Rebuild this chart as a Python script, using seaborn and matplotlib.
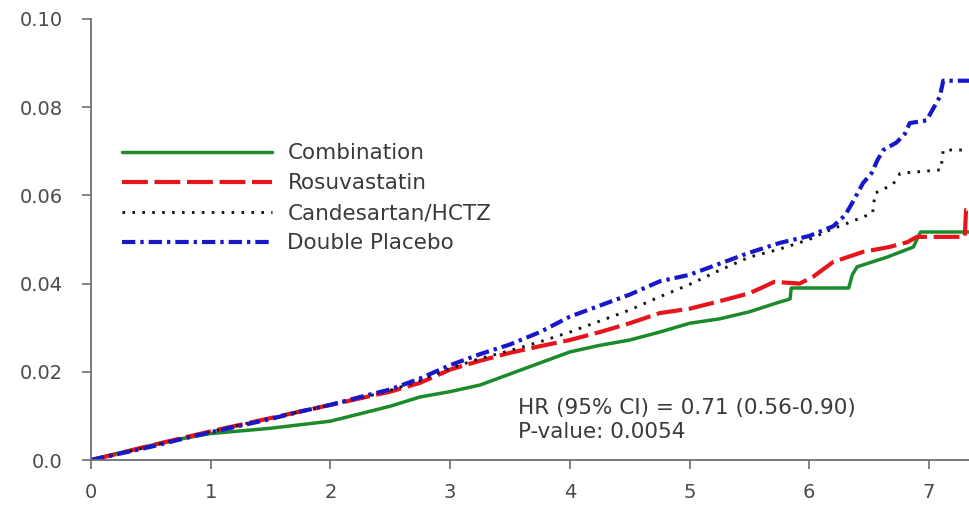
import matplotlib
matplotlib.use("Agg")
import matplotlib.pyplot as plt
import pandas as pd
import seaborn as sns

# ---- data ----
grid = [0, 0.25, 0.5, 0.75, 1.0, 1.25, 1.5, 1.75, 2.0, 2.25, 2.5, 2.75, 3.0,
        3.25, 3.5, 3.75, 4.0, 4.25, 4.5, 4.75, 5.0, 5.25, 5.5, 5.75, 6.0]

combination_t = grid[:24] + [5.84, 5.85, 6.33, 6.36, 6.40, 6.65, 6.87, 6.93, 7.40]
combination_v = [0, 0.0017, 0.0033, 0.0048, 0.0060, 0.0066, 0.0072, 0.0080, 0.0088,
                 0.0105, 0.0122, 0.0143, 0.0155, 0.0170, 0.0195, 0.0220, 0.0245,
                 0.0260, 0.0272, 0.0290, 0.0310, 0.0320, 0.0336, 0.0358, 0.0365,
                 0.0390, 0.0390, 0.0420, 0.0438, 0.0460, 0.0483, 0.0517, 0.0517]

rosuva_t = grid[:23] + [5.71, 5.92, 6.03, 6.20, 6.45, 6.67, 6.82, 6.90, 7.30, 7.31, 7.40]
rosuva_v = [0, 0.0016, 0.0033, 0.0049, 0.0065, 0.0080, 0.0095, 0.0110, 0.0125,
            0.0140, 0.0155, 0.0175, 0.0205, 0.0225, 0.0243, 0.0258, 0.0272,
            0.0290, 0.0310, 0.0333, 0.0343, 0.0360, 0.0378,
            0.0404, 0.0400, 0.0415, 0.0449, 0.0472, 0.0483, 0.0494, 0.0506,
            0.0506, 0.0567, 0.0567]

cand_t = grid[:25] + [6.20, 6.32, 6.53, 6.55, 6.70, 6.76, 7.10, 7.12, 7.40]
cand_v = [0, 0.0015, 0.0032, 0.0048, 0.0064, 0.0080, 0.0095, 0.0110, 0.0125,
          0.0140, 0.0158, 0.0180, 0.0208, 0.0230, 0.0248, 0.0268, 0.0290,
          0.0315, 0.0340, 0.0370, 0.0398, 0.0430, 0.0460, 0.0478, 0.0500,
          0.0525, 0.0537, 0.0560, 0.0605, 0.0625, 0.0650, 0.0658, 0.0703, 0.0703]

placebo_t = grid[:25] + [6.20, 6.30, 6.36, 6.45, 6.52, 6.57, 6.62, 6.73, 6.80,
                         6.84, 6.98, 7.03, 7.09, 7.12, 7.40]
placebo_v = [0, 0.0015, 0.0030, 0.0047, 0.0063, 0.0078, 0.0093, 0.0110, 0.0125,
             0.0143, 0.0160, 0.0185, 0.0215, 0.0240, 0.0262, 0.0290, 0.0325,
             0.0350, 0.0375, 0.0405, 0.0420, 0.0445, 0.0470, 0.0492, 0.0508,
             0.0530, 0.0555, 0.0583, 0.0628, 0.0650, 0.0680, 0.0703, 0.0720,
             0.0740, 0.0764, 0.0770, 0.0794, 0.0823, 0.0860, 0.0860]

labels = ["Combination", "Rosuvastatin", "Candesartan/HCTZ", "Double Placebo"]
x_ticks = [0, 1, 2, 3, 4, 5, 6, 7]
y_ticks = [0.0, 0.02, 0.04, 0.06, 0.08, 0.10]
y_ticklabels = ["0.0", "0.02", "0.04", "0.06", "0.08", "0.10"]
hr_text = "HR (95% CI) = 0.71 (0.56-0.90)"
p_text = "P-value: 0.0054"

series = [
    (labels[0], combination_t, combination_v),
    (labels[1], rosuva_t, rosuva_v),
    (labels[2], cand_t, cand_v),
    (labels[3], placebo_t, placebo_v),
]
frames = [pd.DataFrame({"Years": t, "Incidence": v, "Group": g}) for g, t, v in series]
df = pd.concat(frames, ignore_index=True)

# ---- styling ----
sns.set_theme(style="ticks")
plt.rcParams["font.family"] = ["DejaVu Sans"]

styles = {
    "Combination": dict(color="#1b8a2b", lw=2.5, dashes=None),
    "Rosuvastatin": dict(color="#e8141c", lw=3.0, dashes=(6.2, 1.6)),
    "Candesartan/HCTZ": dict(color="#151515", lw=2.1, dashes=(0.9, 2.5)),
    "Double Placebo": dict(color="#1818c8", lw=3.0, dashes=(3.2, 1.2, 0.8, 1.2)),
}

fig = plt.figure(figsize=(9.69, 5.12), dpi=100)
ax = fig.add_axes([91 / 969, 52 / 512, 1 - 91 / 969, 441 / 512])

handles = []
for g in labels:
    st = styles[g]
    sub = df[df["Group"] == g]
    sns.lineplot(data=sub, x="Years", y="Incidence", ax=ax, color=st["color"],
                 linewidth=st["lw"], sort=False, estimator=None, legend=False)
    ln = ax.lines[-1]
    if st["dashes"] is not None:
        ln.set_dashes(st["dashes"])
    handles.append(ln)

ax.set_xlim(0, 7.335)
ax.set_ylim(0, 0.10)
ax.set_xticks(x_ticks)
ax.set_xticklabels([str(v) for v in x_ticks])
ax.set_yticks(y_ticks)
ax.set_yticklabels(y_ticklabels)
ax.set_xlabel("")
ax.set_ylabel("")

for side in ["top", "right"]:
    ax.spines[side].set_visible(False)
for side in ["left", "bottom"]:
    ax.spines[side].set_color("#6e6e6e")
    ax.spines[side].set_linewidth(1.3)

ax.tick_params(axis="both", direction="out", length=6.5, width=1.2,
               color="#6e6e6e", labelcolor="#4a4a4a", labelsize=14)
ax.tick_params(axis="y", pad=14)
ax.tick_params(axis="x", pad=10)

leg = ax.legend(handles, labels, loc="upper left", bbox_to_anchor=(0.035, 0.718),
                frameon=False, fontsize=15.5, handlelength=7.0, handletextpad=0.7,
                labelspacing=0.46, borderpad=0, borderaxespad=0)
for t in leg.get_texts():
    t.set_color("#3a3a3a")

ax.text(3.57, 0.0118, hr_text, fontsize=15.5, color="#3a3a3a", va="center", ha="left")
ax.text(3.57, 0.0063, p_text, fontsize=15.5, color="#3a3a3a", va="center", ha="left")

fig.savefig("out.png", dpi=100)
